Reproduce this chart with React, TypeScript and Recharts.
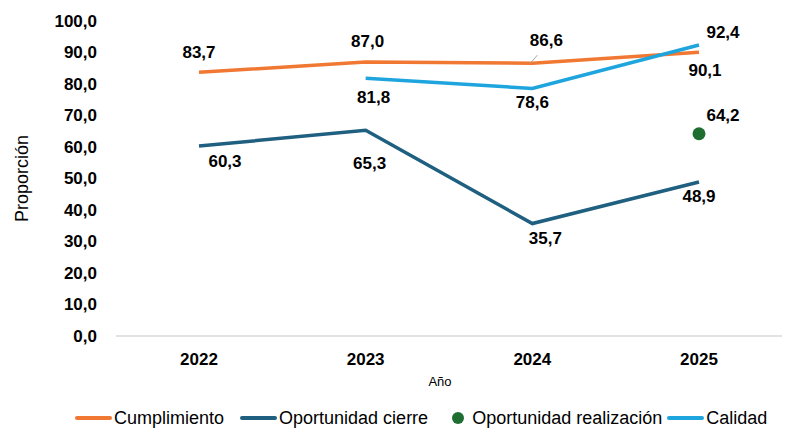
import React from "react";
import { LineChart, Line, XAxis, YAxis, Legend } from "recharts";

const years = ["2022", "2023", "2024", "2025"];
const cumplimiento = [83.7, 87.0, 86.6, 90.1];
const oportunidadCierre = [60.3, 65.3, 35.7, 48.9];
const oportunidadRealizacion = [null, null, null, 64.2];
const calidad = [null, 81.8, 78.6, 92.4];
const yTicks = [0, 10, 20, 30, 40, 50, 60, 70, 80, 90, 100];

const C_ORANGE = "#F07832";
const C_DARK = "#1F5F80";
const C_GREEN = "#1E6E32";
const C_LIGHT = "#1FA5DE";

const FONT = "'Liberation Sans', Arial, sans-serif";

// label offsets relative to the point [dx, dy]
const offCumpl = [[0, -20], [2, -20], [14, -23], [6, 18]];
const offCierre = [[26, 15], [4, 33], [13, 15], [0, 15]];
const offCalidad = [[0, 0], [8, 19], [0, 14], [24, -12]];
const offReal = [[0, 0], [0, 0], [0, 0], [24, -18]];

const fmt = (v: number) => v.toFixed(1).replace(".", ",");

const data = years.map((y, i) => ({
  year: y,
  cumplimiento: cumplimiento[i],
  cierre: oportunidadCierre[i],
  realizacion: oportunidadRealizacion[i],
  calidad: calidad[i],
}));

const makeLabel = (offs: number[][], leader?: number) => (props: any) => {
  const { x, y, value, index } = props;
  if (value == null) return null;
  const [dx, dy] = offs[index];
  return (
    <g>
      {leader === index && (
        <line x1={x - 2} y1={y} x2={x + 5} y2={y - 8} stroke="#a6a6a6" strokeWidth={1} />
      )}
      <text
        x={x + dx}
        y={y + dy}
        textAnchor="middle"
        dominantBaseline="central"
        fontFamily={FONT}
        fontWeight="bold"
        fontSize={17}
        fill="#000"
      >
        {fmt(value)}
      </text>
    </g>
  );
};

const legendItems = [
  { name: "Cumplimiento", color: C_ORANGE, type: "line", ml: 75 },
  { name: "Oportunidad cierre", color: C_DARK, type: "line", ml: 16 },
  { name: "Oportunidad realización", color: C_GREEN, type: "dot", ml: 24 },
  { name: "Calidad", color: C_LIGHT, type: "line", ml: 5 },
];

const renderLegend = () => (
  <div style={{ display: "flex", alignItems: "center", fontFamily: FONT, fontSize: 18, color: "#000", height: 22 }}>
    {legendItems.map((it) => (
      <div key={it.name} style={{ display: "flex", alignItems: "center", marginLeft: it.ml }}>
        {it.type === "line" ? (
          <span style={{ display: "inline-block", width: 37, height: 4, borderRadius: 2, background: it.color, marginRight: 2 }} />
        ) : (
          <span style={{ display: "inline-block", width: 12, height: 12, borderRadius: 6, background: it.color, marginRight: 8 }} />
        )}
        <span style={{ whiteSpace: "nowrap" }}>{it.name}</span>
      </div>
    ))}
  </div>
);

const XTick = (props: any) => {
  const { x, y, payload } = props;
  return (
    <text x={x} y={y + 15} textAnchor="middle" dominantBaseline="central" fontFamily={FONT} fontWeight="bold" fontSize={17} fill="#000">
      {payload.value}
    </text>
  );
};

const YTick = (props: any) => {
  const { x, y, payload } = props;
  return (
    <text x={x} y={y} textAnchor="end" dominantBaseline="central" fontFamily={FONT} fontWeight="bold" fontSize={17} fill="#000">
      {fmt(payload.value)}
    </text>
  );
};

export default function App() {
  return (
    <div style={{ position: "absolute", left: 0, top: 0, width: 785, height: 429, background: "#fff" }}>
      <LineChart width={785} height={429} data={data} margin={{ top: 21, right: 3, left: 0, bottom: 0 }}>
        <XAxis
          dataKey="year"
          height={71}
          padding={{ left: 83, right: 83 }}
          axisLine={{ stroke: "#d9d9d9", strokeWidth: 1.5 }}
          tickLine={false}
          tick={<XTick />}
          label={(p: any) => {
            const vb = p.viewBox;
            return (
              <text x={440} y={vb.y + 45} textAnchor="middle" dominantBaseline="central" fontFamily={FONT} fontSize={13} fill="#000">
                Año
              </text>
            );
          }}
        />
        <YAxis
          width={116}
          domain={[0, 100]}
          ticks={yTicks}
          interval={0}
          axisLine={false}
          tickLine={false}
          tickMargin={13}
          tick={<YTick />}
          label={(p: any) => {
            const vb = p.viewBox;
            const cy = vb.y + vb.height / 2;
            return (
              <text x={22} y={cy} transform={`rotate(-90, 22, ${cy})`} textAnchor="middle" dominantBaseline="central" fontFamily={FONT} fontSize={18} fill="#000">
                Proporción
              </text>
            );
          }}
        />
        <Legend verticalAlign="bottom" align="left" content={renderLegend} height={22} wrapperStyle={{ left: 0, bottom: 0 }} />
        <Line
          dataKey="cumplimiento"
          stroke={C_ORANGE}
          strokeWidth={3.5}
          dot={false}
          isAnimationActive={false}
          label={makeLabel(offCumpl, 2)}
        />
        <Line
          dataKey="cierre"
          stroke={C_DARK}
          strokeWidth={3.5}
          dot={false}
          isAnimationActive={false}
          label={makeLabel(offCierre)}
        />
        <Line
          dataKey="realizacion"
          stroke="none"
          dot={{ r: 6.5, fill: C_GREEN, stroke: C_GREEN, strokeWidth: 0 }}
          isAnimationActive={false}
          label={makeLabel(offReal)}
        />
        <Line
          dataKey="calidad"
          stroke={C_LIGHT}
          strokeWidth={3.5}
          dot={false}
          isAnimationActive={false}
          label={makeLabel(offCalidad)}
        />
      </LineChart>
    </div>
  );
}
